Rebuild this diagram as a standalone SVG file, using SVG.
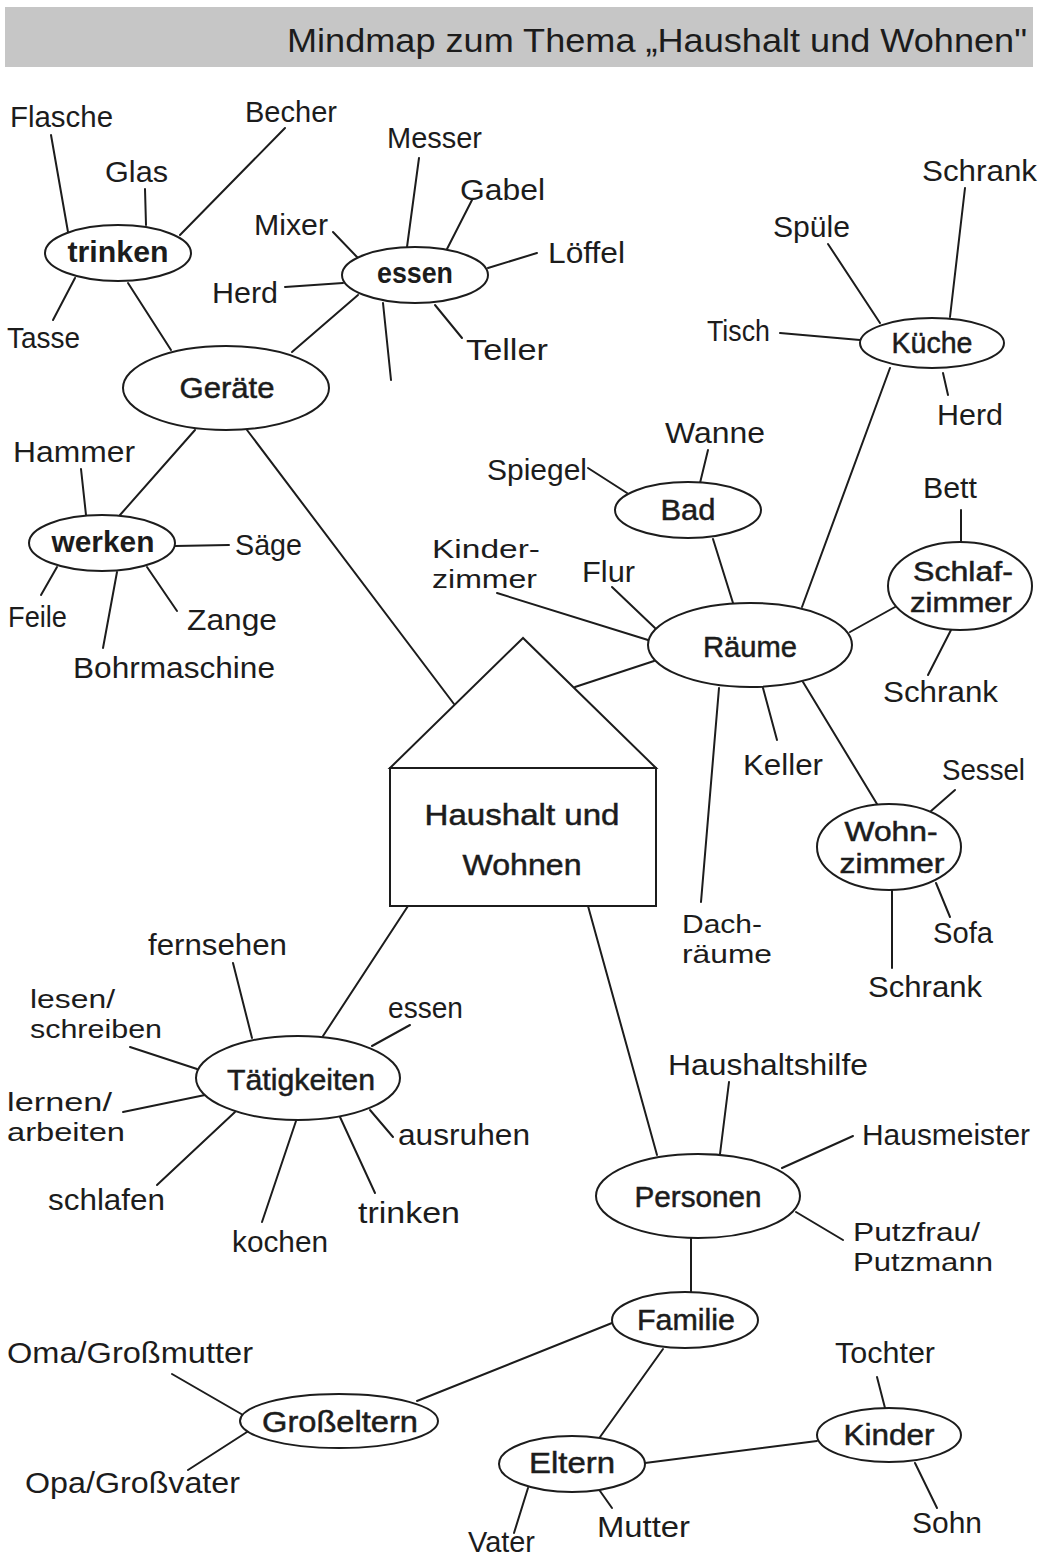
<svg xmlns="http://www.w3.org/2000/svg" width="1039" height="1559" viewBox="0 0 1039 1559">
<style>
text{font-family:"Liberation Sans",Arial,sans-serif;fill:#1c1c1c;}
.leaf{font-size:30px;}
.two{font-size:26px;}
.lbl{font-size:30px;text-anchor:middle;stroke:#1c1c1c;stroke-width:0.5px;}
.lbl2{font-size:27px;}
.bold{font-weight:bold;stroke:none;}
.n{fill:#fff;stroke:#1c1c1c;stroke-width:2;}
#connectors line{stroke:#1c1c1c;stroke-width:2;stroke-linecap:round;}
</style>
<rect x="0" y="0" width="1039" height="1559" fill="#fff"/>
<g id="header">
<rect x="5" y="7" width="1028" height="60" fill="#c6c6c6"/>
<text x="287" y="52" font-size="34" textLength="740" lengthAdjust="spacingAndGlyphs">Mindmap zum Thema „Haushalt und Wohnen"</text>
</g>
<g id="connectors">
<line x1="51" y1="135" x2="68" y2="232"/>
<line x1="145" y1="189" x2="146" y2="225"/>
<line x1="285" y1="128" x2="180" y2="235"/>
<line x1="75" y1="278" x2="53" y2="320"/>
<line x1="128" y1="283" x2="171" y2="350"/>
<line x1="333" y1="232" x2="357" y2="257"/>
<line x1="285" y1="287" x2="343" y2="283"/>
<line x1="419" y1="158" x2="407" y2="247"/>
<line x1="472" y1="200" x2="447" y2="249"/>
<line x1="488" y1="268" x2="537" y2="253"/>
<line x1="435" y1="305" x2="462" y2="338"/>
<line x1="383" y1="303" x2="391" y2="380"/>
<line x1="358" y1="295" x2="292" y2="352"/>
<line x1="195" y1="430" x2="120" y2="515"/>
<line x1="247" y1="430" x2="454" y2="704"/>
<line x1="81" y1="469" x2="86" y2="515"/>
<line x1="175" y1="546" x2="229" y2="545"/>
<line x1="57" y1="567" x2="41" y2="595"/>
<line x1="117" y1="572" x2="103" y2="648"/>
<line x1="147" y1="567" x2="177" y2="611"/>
<line x1="575" y1="687" x2="654" y2="661"/>
<line x1="828" y1="244" x2="880" y2="323"/>
<line x1="965" y1="188" x2="950" y2="317"/>
<line x1="780" y1="333" x2="860" y2="340"/>
<line x1="943" y1="373" x2="948" y2="395"/>
<line x1="890" y1="368" x2="802" y2="607"/>
<line x1="708" y1="450" x2="700" y2="483"/>
<line x1="588" y1="468" x2="627" y2="493"/>
<line x1="713" y1="539" x2="733" y2="603"/>
<line x1="612" y1="587" x2="655" y2="628"/>
<line x1="497" y1="593" x2="648" y2="640"/>
<line x1="850" y1="632" x2="895" y2="607"/>
<line x1="719" y1="688" x2="701" y2="902"/>
<line x1="763" y1="688" x2="777" y2="740"/>
<line x1="803" y1="682" x2="877" y2="804"/>
<line x1="961" y1="510" x2="961" y2="543"/>
<line x1="951" y1="630" x2="928" y2="675"/>
<line x1="955" y1="790" x2="931" y2="811"/>
<line x1="936" y1="883" x2="950" y2="917"/>
<line x1="892" y1="890" x2="892" y2="968"/>
<line x1="408" y1="906" x2="323" y2="1036"/>
<line x1="588" y1="906" x2="657" y2="1155"/>
<line x1="233" y1="963" x2="252" y2="1038"/>
<line x1="130" y1="1047" x2="197" y2="1069"/>
<line x1="410" y1="1025" x2="372" y2="1046"/>
<line x1="123" y1="1112" x2="205" y2="1095"/>
<line x1="370" y1="1110" x2="393" y2="1137"/>
<line x1="235" y1="1112" x2="157" y2="1185"/>
<line x1="296" y1="1121" x2="262" y2="1222"/>
<line x1="340" y1="1117" x2="375" y2="1193"/>
<line x1="729" y1="1082" x2="720" y2="1154"/>
<line x1="853" y1="1136" x2="782" y2="1168"/>
<line x1="796" y1="1212" x2="843" y2="1240"/>
<line x1="691" y1="1238" x2="691" y2="1292"/>
<line x1="612" y1="1323" x2="417" y2="1401"/>
<line x1="663" y1="1349" x2="600" y2="1437"/>
<line x1="645" y1="1463" x2="817" y2="1441"/>
<line x1="877" y1="1377" x2="885" y2="1408"/>
<line x1="915" y1="1463" x2="937" y2="1508"/>
<line x1="600" y1="1491" x2="612" y2="1508"/>
<line x1="528" y1="1488" x2="514" y2="1533"/>
<line x1="172" y1="1374" x2="243" y2="1415"/>
<line x1="247" y1="1432" x2="188" y2="1470"/>
</g>
<g id="haus">
<polygon class="n" points="523,638 390,768 656,768"/>
<rect class="n" x="390" y="768" width="266" height="138"/>
<text class="lbl" x="522" y="825" textLength="195" lengthAdjust="spacingAndGlyphs">Haushalt und</text>
<text class="lbl" x="522" y="875" textLength="119" lengthAdjust="spacingAndGlyphs">Wohnen</text>
</g>
<g id="trinken"><ellipse class="n" cx="118" cy="253" rx="73" ry="28"/><text class="lbl bold" x="118" y="262" textLength="101" lengthAdjust="spacingAndGlyphs">trinken</text></g>
<g id="essen"><ellipse class="n" cx="415" cy="275" rx="73" ry="28"/><text class="lbl bold" x="415" y="283" textLength="76" lengthAdjust="spacingAndGlyphs">essen</text></g>
<g id="geraete"><ellipse class="n" cx="226" cy="388" rx="103" ry="42"/><text class="lbl" x="227" y="398" textLength="95" lengthAdjust="spacingAndGlyphs">Geräte</text></g>
<g id="werken"><ellipse class="n" cx="102" cy="543" rx="73" ry="28"/><text class="lbl bold" x="103" y="552" textLength="103" lengthAdjust="spacingAndGlyphs">werken</text></g>
<g id="kueche"><ellipse class="n" cx="932" cy="343" rx="72" ry="25"/><text class="lbl" x="932" y="353" textLength="81" lengthAdjust="spacingAndGlyphs">Küche</text></g>
<g id="bad"><ellipse class="n" cx="688" cy="510" rx="73" ry="28"/><text class="lbl" x="688" y="520" textLength="55" lengthAdjust="spacingAndGlyphs">Bad</text></g>
<g id="raeume"><ellipse class="n" cx="750" cy="645" rx="102" ry="42"/><text class="lbl" x="750" y="657" textLength="94" lengthAdjust="spacingAndGlyphs">Räume</text></g>
<g id="schlafzimmer"><ellipse class="n" cx="960" cy="586" rx="72" ry="44"/><text class="lbl lbl2" x="963" y="581" textLength="100" lengthAdjust="spacingAndGlyphs">Schlaf-</text><text class="lbl lbl2" x="961" y="612" textLength="102" lengthAdjust="spacingAndGlyphs">zimmer</text></g>
<g id="wohnzimmer"><ellipse class="n" cx="889" cy="847" rx="72" ry="43"/><text class="lbl lbl2" x="891" y="841" textLength="93" lengthAdjust="spacingAndGlyphs">Wohn-</text><text class="lbl lbl2" x="892" y="873" textLength="105" lengthAdjust="spacingAndGlyphs">zimmer</text></g>
<g id="taetigkeiten"><ellipse class="n" cx="298" cy="1078" rx="102" ry="42"/><text class="lbl" x="301" y="1090" textLength="148" lengthAdjust="spacingAndGlyphs">Tätigkeiten</text></g>
<g id="personen"><ellipse class="n" cx="698" cy="1196" rx="102" ry="42"/><text class="lbl" x="698" y="1207" textLength="127" lengthAdjust="spacingAndGlyphs">Personen</text></g>
<g id="familie"><ellipse class="n" cx="685" cy="1320" rx="73" ry="28"/><text class="lbl" x="686" y="1330" textLength="98" lengthAdjust="spacingAndGlyphs">Familie</text></g>
<g id="grosseltern"><ellipse class="n" cx="339" cy="1421" rx="99" ry="27"/><text class="lbl" x="340" y="1432" textLength="156" lengthAdjust="spacingAndGlyphs">Großeltern</text></g>
<g id="eltern"><ellipse class="n" cx="572" cy="1464" rx="73" ry="28"/><text class="lbl" x="572" y="1473" textLength="86" lengthAdjust="spacingAndGlyphs">Eltern</text></g>
<g id="kinder"><ellipse class="n" cx="889" cy="1435" rx="72" ry="27"/><text class="lbl" x="889" y="1445" textLength="91" lengthAdjust="spacingAndGlyphs">Kinder</text></g>
<g id="leaves" class="leaf">
<g id="l-flasche"><text x="10" y="127" textLength="103" lengthAdjust="spacingAndGlyphs">Flasche</text></g>
<g id="l-glas"><text x="105" y="182" textLength="63" lengthAdjust="spacingAndGlyphs">Glas</text></g>
<g id="l-becher"><text x="245" y="122" textLength="92" lengthAdjust="spacingAndGlyphs">Becher</text></g>
<g id="l-tasse"><text x="7" y="348" textLength="73" lengthAdjust="spacingAndGlyphs">Tasse</text></g>
<g id="l-messer"><text x="387" y="148" textLength="95" lengthAdjust="spacingAndGlyphs">Messer</text></g>
<g id="l-gabel"><text x="460" y="200" textLength="85" lengthAdjust="spacingAndGlyphs">Gabel</text></g>
<g id="l-mixer"><text x="254" y="235" textLength="74" lengthAdjust="spacingAndGlyphs">Mixer</text></g>
<g id="l-herd1"><text x="212" y="303" textLength="66" lengthAdjust="spacingAndGlyphs">Herd</text></g>
<g id="l-loeffel"><text x="548" y="263" textLength="77" lengthAdjust="spacingAndGlyphs">Löffel</text></g>
<g id="l-teller"><text x="466" y="360" textLength="82" lengthAdjust="spacingAndGlyphs">Teller</text></g>
<g id="l-hammer"><text x="13" y="462" textLength="122" lengthAdjust="spacingAndGlyphs">Hammer</text></g>
<g id="l-saege"><text x="235" y="555" textLength="67" lengthAdjust="spacingAndGlyphs">Säge</text></g>
<g id="l-feile"><text x="8" y="627" textLength="59" lengthAdjust="spacingAndGlyphs">Feile</text></g>
<g id="l-zange"><text x="187" y="630" textLength="90" lengthAdjust="spacingAndGlyphs">Zange</text></g>
<g id="l-bohrmaschine"><text x="73" y="678" textLength="202" lengthAdjust="spacingAndGlyphs">Bohrmaschine</text></g>
<g id="l-schrank1"><text x="922" y="181" textLength="115" lengthAdjust="spacingAndGlyphs">Schrank</text></g>
<g id="l-spuele"><text x="773" y="237" textLength="77" lengthAdjust="spacingAndGlyphs">Spüle</text></g>
<g id="l-tisch"><text x="707" y="341" textLength="63" lengthAdjust="spacingAndGlyphs">Tisch</text></g>
<g id="l-herd2"><text x="937" y="425" textLength="66" lengthAdjust="spacingAndGlyphs">Herd</text></g>
<g id="l-wanne"><text x="665" y="443" textLength="100" lengthAdjust="spacingAndGlyphs">Wanne</text></g>
<g id="l-spiegel"><text x="487" y="480" textLength="100" lengthAdjust="spacingAndGlyphs">Spiegel</text></g>
<g id="l-bett"><text x="923" y="498" textLength="54" lengthAdjust="spacingAndGlyphs">Bett</text></g>
<g id="l-flur"><text x="582" y="582" textLength="53" lengthAdjust="spacingAndGlyphs">Flur</text></g>
<g id="l-kinderzimmer" class="two"><text x="432" y="558" textLength="108" lengthAdjust="spacingAndGlyphs">Kinder-</text><text x="432" y="588" textLength="105" lengthAdjust="spacingAndGlyphs">zimmer</text></g>
<g id="l-schrank2"><text x="883" y="702" textLength="115" lengthAdjust="spacingAndGlyphs">Schrank</text></g>
<g id="l-keller"><text x="743" y="775" textLength="80" lengthAdjust="spacingAndGlyphs">Keller</text></g>
<g id="l-sessel"><text x="942" y="780" textLength="83" lengthAdjust="spacingAndGlyphs">Sessel</text></g>
<g id="l-dachraeume" class="two"><text x="682" y="933" textLength="80" lengthAdjust="spacingAndGlyphs">Dach-</text><text x="682" y="963" textLength="90" lengthAdjust="spacingAndGlyphs">räume</text></g>
<g id="l-sofa"><text x="933" y="943" textLength="60" lengthAdjust="spacingAndGlyphs">Sofa</text></g>
<g id="l-schrank3"><text x="868" y="997" textLength="114" lengthAdjust="spacingAndGlyphs">Schrank</text></g>
<g id="l-fernsehen"><text x="148" y="955" textLength="139" lengthAdjust="spacingAndGlyphs">fernsehen</text></g>
<g id="l-lesen" class="two"><text x="30" y="1008" textLength="85" lengthAdjust="spacingAndGlyphs">lesen/</text><text x="30" y="1038" textLength="132" lengthAdjust="spacingAndGlyphs">schreiben</text></g>
<g id="l-essen"><text x="388" y="1018" textLength="75" lengthAdjust="spacingAndGlyphs">essen</text></g>
<g id="l-lernen" class="two"><text x="7" y="1111" textLength="105" lengthAdjust="spacingAndGlyphs">lernen/</text><text x="7" y="1141" textLength="118" lengthAdjust="spacingAndGlyphs">arbeiten</text></g>
<g id="l-ausruhen"><text x="398" y="1145" textLength="132" lengthAdjust="spacingAndGlyphs">ausruhen</text></g>
<g id="l-schlafen"><text x="48" y="1210" textLength="117" lengthAdjust="spacingAndGlyphs">schlafen</text></g>
<g id="l-trinken"><text x="358" y="1223" textLength="102" lengthAdjust="spacingAndGlyphs">trinken</text></g>
<g id="l-kochen"><text x="232" y="1252" textLength="96" lengthAdjust="spacingAndGlyphs">kochen</text></g>
<g id="l-haushaltshilfe"><text x="668" y="1075" textLength="200" lengthAdjust="spacingAndGlyphs">Haushaltshilfe</text></g>
<g id="l-hausmeister"><text x="862" y="1145" textLength="168" lengthAdjust="spacingAndGlyphs">Hausmeister</text></g>
<g id="l-putz" class="two"><text x="853" y="1241" textLength="127" lengthAdjust="spacingAndGlyphs">Putzfrau/</text><text x="853" y="1271" textLength="140" lengthAdjust="spacingAndGlyphs">Putzmann</text></g>
<g id="l-oma"><text x="7" y="1363" textLength="246" lengthAdjust="spacingAndGlyphs">Oma/Großmutter</text></g>
<g id="l-opa"><text x="25" y="1493" textLength="215" lengthAdjust="spacingAndGlyphs">Opa/Großvater</text></g>
<g id="l-tochter"><text x="835" y="1363" textLength="100" lengthAdjust="spacingAndGlyphs">Tochter</text></g>
<g id="l-sohn"><text x="912" y="1533" textLength="70" lengthAdjust="spacingAndGlyphs">Sohn</text></g>
<g id="l-mutter"><text x="597" y="1537" textLength="93" lengthAdjust="spacingAndGlyphs">Mutter</text></g>
<g id="l-vater"><text x="468" y="1552" textLength="67" lengthAdjust="spacingAndGlyphs">Vater</text></g>
</g>
</svg>
